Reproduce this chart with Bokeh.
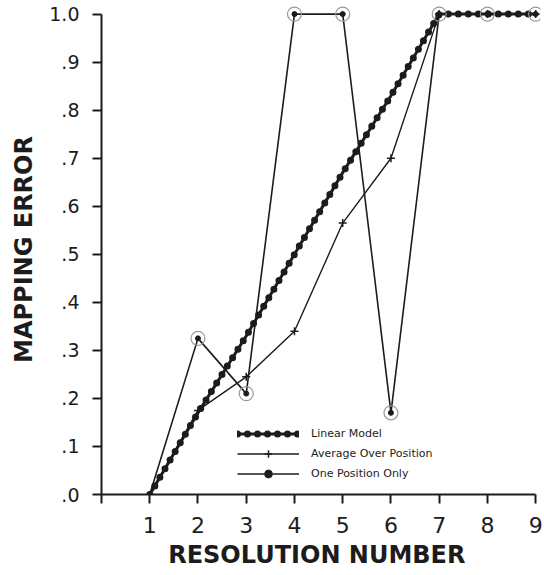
from bokeh.plotting import figure
from bokeh.models import Range1d, FixedTicker, Legend, LegendItem
from bokeh.embed import file_html
from bokeh.resources import INLINE

# ---- data ----
resolution = [1, 2, 3, 4, 5, 6, 7, 8, 9]
linear_model = [0.0, 0.17, 0.33, 0.50, 0.67, 0.83, 1.0, 1.0, 1.0]
average_over_position = [0.0, 0.175, 0.245, 0.34, 0.565, 0.70, 1.0, 1.0, 1.0]
one_position_only = [0.0, 0.325, 0.21, 1.0, 1.0, 0.17, 1.0, 1.0, 1.0]

x_ticks = [0, 1, 2, 3, 4, 5, 6, 7, 8, 9]
x_tick_labels = ["", "1", "2", "3", "4", "5", "6", "7", "8", "9"]
y_ticks = [0.0, 0.1, 0.2, 0.3, 0.4, 0.5, 0.6, 0.7, 0.8, 0.9, 1.0]
y_tick_labels = [".0", ".1", ".2", ".3", ".4", ".5", ".6", ".7", ".8", ".9", "1.0"]

FONT = "DejaVu Sans"
INK = "#1c1c1c"

p = figure(width=544, height=575, output_backend="svg", toolbar_location=None,
           x_range=Range1d(0, 9.1), y_range=Range1d(0, 1.02),
           min_border_left=101, min_border_right=4, min_border_top=4,
           min_border_bottom=81)
p.outline_line_color = None
p.grid.visible = False
p.background_fill_color = "white"
p.border_fill_color = "white"

# axes
p.xaxis.ticker = FixedTicker(ticks=x_ticks)
p.xaxis.major_label_overrides = {t: l for t, l in zip(x_ticks, x_tick_labels)}
p.yaxis.ticker = FixedTicker(ticks=y_ticks)
p.yaxis.major_label_overrides = {t: l for t, l in zip(y_ticks, y_tick_labels)}
for ax in (p.xaxis[0], p.yaxis[0]):
    ax.axis_line_color = INK
    ax.axis_line_width = 2
    ax.major_tick_line_color = INK
    ax.major_tick_line_width = 2
    ax.major_tick_out = 9
    ax.major_tick_in = 0
    ax.minor_tick_line_color = None
    ax.major_label_text_font = FONT
    ax.major_label_text_color = INK
    ax.axis_label_text_font = FONT
    ax.axis_label_text_font_style = "bold"
    ax.axis_label_text_color = INK
p.xaxis.bounds = (0, 9)
p.yaxis.bounds = (0, 1.0)
p.xaxis.major_label_text_font_size = "22px"
p.yaxis.major_label_text_font_size = "19px"
p.xaxis.major_label_standoff = 13
p.yaxis.major_label_standoff = 13
p.xaxis.axis_label = "RESOLUTION  NUMBER"
p.yaxis.axis_label = "MAPPING ERROR"
p.xaxis.axis_label_text_font_size = "24px"
p.yaxis.axis_label_text_font_size = "24px"
p.xaxis.axis_label_standoff = 5
p.yaxis.axis_label_standoff = 8

# Linear model: thick beaded line
lm_base = p.line(resolution, linear_model, line_color=INK, line_width=3)
lm_beads = p.line(resolution, linear_model, line_color=INK, line_width=7,
                  line_dash="0 10", line_cap="round")

# Average over position: thin line with crosses
avg_line = p.line(resolution, average_over_position, line_color=INK, line_width=1.4)
avg_marks = p.scatter(resolution[1:], average_over_position[1:], marker="cross",
                      size=8, line_color=INK, line_width=1.5)

# One position only: line with circled dots
one_line = p.line(resolution, one_position_only, line_color=INK, line_width=1.6)
one_rings = p.scatter(resolution[1:], one_position_only[1:], marker="circle",
                      size=14, fill_color=None, line_color="#9a9a9a", line_width=1.2)
one_dots = p.scatter(resolution[1:], one_position_only[1:], marker="circle",
                     size=5, fill_color=INK, line_color=INK)

legend = Legend(items=[
    LegendItem(label="Linear Model", renderers=[lm_base, lm_beads]),
    LegendItem(label="Average Over Position", renderers=[avg_line, avg_marks]),
    LegendItem(label="One Position Only", renderers=[one_line, one_rings, one_dots]),
], location=(136, 11))
legend.padding = 0
legend.margin = 0
legend.spacing = 1
legend.glyph_width = 62
legend.glyph_height = 19
legend.label_standoff = 12
legend.label_text_font = FONT
legend.label_text_font_size = "11px"
legend.label_text_color = INK
legend.border_line_color = None
legend.background_fill_alpha = 0
p.add_layout(legend)

open("out.html", "w").write(file_html(p, INLINE))
